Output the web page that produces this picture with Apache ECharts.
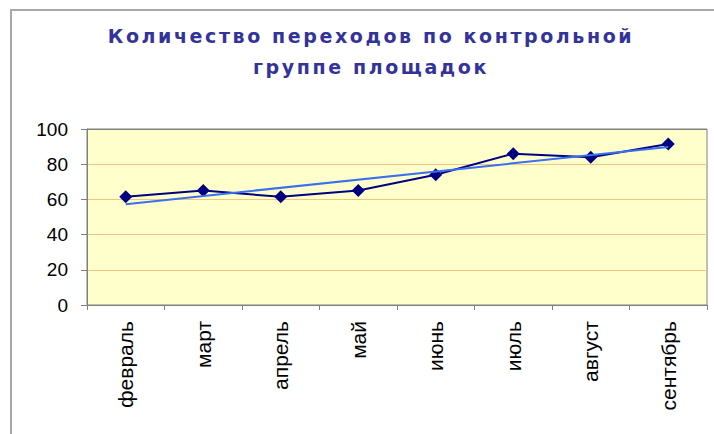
<!DOCTYPE html>
<html>
<head>
<meta charset="utf-8">
<script src="https://cdn.jsdelivr.net/npm/echarts@6/dist/echarts.min.js"></script>
<style>
html,body{margin:0;padding:0;background:#fff;}
#c{width:714px;height:434px;}
text[style*="DejaVu"], text[font-family*="DejaVu"], tspan[style*="DejaVu"] { letter-spacing: 2.6px; }
</style>
</head>
<body>
<div id="c"></div>
<script>
var titleText = 'Количество переходов по контрольной\nгруппе площадок';
var categories = ['февраль','март','апрель','май','июнь','июль','август','сентябрь'];
var values = [61.5, 65, 61.5, 65, 74, 86, 84, 91.5];
// linear trend line endpoints
var trendPoints = [[0, 57.3], [7, 89.8]];
var yTicks = {min: 0, max: 100, interval: 20};

var chart = echarts.init(document.getElementById('c'), null, {renderer: 'svg'});
chart.setOption({
  animation: false,
  backgroundColor: '#ffffff',
  title: {
    text: titleText,
    left: 371,
    top: 0,
    textAlign: 'center',
    padding: [20, 0, 0, 0],
    textStyle: {
      fontFamily: 'DejaVu Sans',
      fontWeight: 'bold',
      fontSize: 19,
      lineHeight: 31,
      color: '#333399'
    }
  },
  graphic: [{
    type: 'rect',
    shape: {x: 11, y: 10, width: 800, height: 500},
    style: {fill: 'none', stroke: '#a8a8a8', lineWidth: 2},
    silent: true
  }],
  grid: {
    left: 87, right: 7, top: 129, bottom: 129,
    show: true,
    backgroundColor: '#ffffcc',
    borderColor: '#808080',
    borderWidth: 1
  },
  xAxis: {
    type: 'category',
    data: categories,
    boundaryGap: true,
    axisLine: {lineStyle: {color: '#808080', width: 1}},
    axisTick: {show: true, length: 5, lineStyle: {color: '#808080'}},
    axisLabel: {
      rotate: 90,
      margin: 16,
      color: '#000',
      fontFamily: 'Liberation Sans',
      fontSize: 21,
      interval: 0
    }
  },
  yAxis: {
    type: 'value',
    min: yTicks.min, max: yTicks.max, interval: yTicks.interval,
    axisLine: {show: true, lineStyle: {color: '#808080'}},
    axisTick: {show: true, length: 6, lineStyle: {color: '#808080'}},
    axisLabel: {
      margin: 19,
      color: '#000',
      fontFamily: 'Liberation Sans',
      fontSize: 19
    },
    splitLine: {
      show: true,
      lineStyle: {color: ['#808080','#ecc97f','#ecc97f','#ecc97f','#ecc97f','#808080'], width: 1}
    }
  },
  series: [{
    type: 'line',
    data: values,
    symbol: 'diamond',
    symbolSize: 13,
    lineStyle: {color: '#000080', width: 2},
    itemStyle: {color: '#000080'},
    z: 3
  }, {
    type: 'line',
    data: trendPoints,
    symbol: 'none',
    lineStyle: {color: '#3a6ff0', width: 2},
    z: 4
  }]
});
</script>
</body>
</html>
